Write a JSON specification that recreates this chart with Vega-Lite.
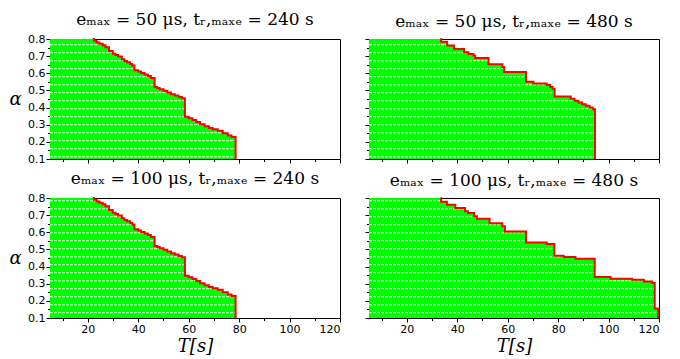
{
  "$schema": "https://vega.github.io/schema/vega-lite/v6.json",
  "background": "white",
  "padding": {"left": 8, "top": 10, "right": 14, "bottom": 2},
  "datasets": {
    "p1": [
      {"T": 5, "a": 0.8}, {"T": 22.0, "a": 0.8}, {"T": 22.4, "a": 0.79}, {"T": 23.5, "a": 0.78}, {"T": 24.6, "a": 0.772},
      {"T": 25.9, "a": 0.763}, {"T": 27.0, "a": 0.752}, {"T": 28.4, "a": 0.73}, {"T": 29.9, "a": 0.714}, {"T": 31.0, "a": 0.706},
      {"T": 32.0, "a": 0.698}, {"T": 33.5, "a": 0.682}, {"T": 34.5, "a": 0.672}, {"T": 35.5, "a": 0.664}, {"T": 36.8, "a": 0.654},
      {"T": 37.6, "a": 0.645}, {"T": 38.5, "a": 0.617}, {"T": 40.0, "a": 0.61}, {"T": 41.1, "a": 0.602}, {"T": 42.5, "a": 0.593},
      {"T": 43.8, "a": 0.584}, {"T": 45.0, "a": 0.573}, {"T": 46.5, "a": 0.52}, {"T": 47.5, "a": 0.514}, {"T": 48.5, "a": 0.507},
      {"T": 50.0, "a": 0.498}, {"T": 51.5, "a": 0.488}, {"T": 53.0, "a": 0.478}, {"T": 54.5, "a": 0.47}, {"T": 56.0, "a": 0.462},
      {"T": 57.3, "a": 0.455}, {"T": 58.5, "a": 0.347}, {"T": 60.0, "a": 0.338}, {"T": 61.5, "a": 0.328}, {"T": 63.0, "a": 0.316},
      {"T": 64.5, "a": 0.302}, {"T": 66.3, "a": 0.291}, {"T": 68.0, "a": 0.281}, {"T": 69.5, "a": 0.273}, {"T": 71.5, "a": 0.265},
      {"T": 73.5, "a": 0.25}, {"T": 75.5, "a": 0.237}, {"T": 77.0, "a": 0.228}, {"T": 78.6, "a": 0.1}
    ],
    "p2": [
      {"T": 5, "a": 0.8}, {"T": 33.3, "a": 0.8}, {"T": 33.6, "a": 0.784}, {"T": 36.0, "a": 0.762}, {"T": 38.8, "a": 0.742},
      {"T": 42.7, "a": 0.722}, {"T": 44.4, "a": 0.712}, {"T": 46.4, "a": 0.704}, {"T": 47.1, "a": 0.689}, {"T": 52.4, "a": 0.653},
      {"T": 57.9, "a": 0.636}, {"T": 58.6, "a": 0.608}, {"T": 67.3, "a": 0.55}, {"T": 70.2, "a": 0.541}, {"T": 75.5, "a": 0.531},
      {"T": 76.8, "a": 0.52}, {"T": 77.8, "a": 0.51}, {"T": 78.6, "a": 0.464}, {"T": 85.0, "a": 0.452}, {"T": 86.5, "a": 0.44},
      {"T": 88.0, "a": 0.43}, {"T": 89.5, "a": 0.42}, {"T": 91.0, "a": 0.41}, {"T": 92.5, "a": 0.4}, {"T": 93.7, "a": 0.39},
      {"T": 94.6, "a": 0.1}
    ],
    "p3": [
      {"T": 5, "a": 0.8}, {"T": 22.0, "a": 0.8}, {"T": 22.4, "a": 0.79}, {"T": 23.5, "a": 0.78}, {"T": 24.6, "a": 0.772},
      {"T": 25.9, "a": 0.763}, {"T": 27.0, "a": 0.752}, {"T": 28.4, "a": 0.73}, {"T": 29.9, "a": 0.714}, {"T": 31.0, "a": 0.706},
      {"T": 32.0, "a": 0.698}, {"T": 33.5, "a": 0.682}, {"T": 34.5, "a": 0.672}, {"T": 35.5, "a": 0.664}, {"T": 36.8, "a": 0.654},
      {"T": 37.6, "a": 0.645}, {"T": 38.5, "a": 0.617}, {"T": 40.0, "a": 0.61}, {"T": 41.1, "a": 0.602}, {"T": 42.5, "a": 0.593},
      {"T": 43.8, "a": 0.584}, {"T": 45.0, "a": 0.573}, {"T": 46.5, "a": 0.52}, {"T": 47.5, "a": 0.514}, {"T": 48.5, "a": 0.507},
      {"T": 50.0, "a": 0.498}, {"T": 51.5, "a": 0.488}, {"T": 53.0, "a": 0.478}, {"T": 54.5, "a": 0.47}, {"T": 56.0, "a": 0.462},
      {"T": 57.3, "a": 0.455}, {"T": 58.5, "a": 0.347}, {"T": 60.0, "a": 0.338}, {"T": 61.5, "a": 0.328}, {"T": 63.0, "a": 0.316},
      {"T": 64.5, "a": 0.302}, {"T": 66.3, "a": 0.291}, {"T": 68.0, "a": 0.281}, {"T": 69.5, "a": 0.273}, {"T": 71.5, "a": 0.265},
      {"T": 73.5, "a": 0.25}, {"T": 75.5, "a": 0.237}, {"T": 77.0, "a": 0.228}, {"T": 78.6, "a": 0.1}
    ],
    "p4": [
      {"T": 5, "a": 0.8}, {"T": 33.4, "a": 0.8}, {"T": 33.6, "a": 0.778}, {"T": 35.9, "a": 0.761}, {"T": 39.2, "a": 0.741},
      {"T": 43.1, "a": 0.722}, {"T": 44.2, "a": 0.712}, {"T": 46.7, "a": 0.693}, {"T": 47.8, "a": 0.679}, {"T": 52.8, "a": 0.652},
      {"T": 57.9, "a": 0.635}, {"T": 58.9, "a": 0.605}, {"T": 67.3, "a": 0.541}, {"T": 75.5, "a": 0.531}, {"T": 78.5, "a": 0.463},
      {"T": 82.2, "a": 0.456}, {"T": 86.9, "a": 0.446}, {"T": 94.5, "a": 0.339}, {"T": 100.8, "a": 0.329}, {"T": 109.3, "a": 0.323},
      {"T": 114.0, "a": 0.313}, {"T": 117.3, "a": 0.304}, {"T": 118.3, "a": 0.155}, {"T": 119.7, "a": 0.1}
    ],
    "hatchTop": [
      {"a": 0.767, "T": 5, "T2": 120}, {"a": 0.72, "T": 5, "T2": 120}, {"a": 0.673, "T": 5, "T2": 120}, {"a": 0.627, "T": 5, "T2": 120},
      {"a": 0.58, "T": 5, "T2": 120}, {"a": 0.533, "T": 5, "T2": 120}, {"a": 0.487, "T": 5, "T2": 120}, {"a": 0.44, "T": 5, "T2": 120},
      {"a": 0.393, "T": 5, "T2": 120}, {"a": 0.347, "T": 5, "T2": 120}, {"a": 0.3, "T": 5, "T2": 120}, {"a": 0.253, "T": 5, "T2": 120},
      {"a": 0.207, "T": 5, "T2": 120}, {"a": 0.16, "T": 5, "T2": 120}, {"a": 0.113, "T": 5, "T2": 120}
    ],
    "hatchBot": [
      {"a": 0.784, "T": 5, "T2": 120}, {"a": 0.737, "T": 5, "T2": 120}, {"a": 0.691, "T": 5, "T2": 120}, {"a": 0.644, "T": 5, "T2": 120},
      {"a": 0.597, "T": 5, "T2": 120}, {"a": 0.551, "T": 5, "T2": 120}, {"a": 0.504, "T": 5, "T2": 120}, {"a": 0.457, "T": 5, "T2": 120},
      {"a": 0.411, "T": 5, "T2": 120}, {"a": 0.364, "T": 5, "T2": 120}, {"a": 0.317, "T": 5, "T2": 120}, {"a": 0.271, "T": 5, "T2": 120},
      {"a": 0.224, "T": 5, "T2": 120}, {"a": 0.177, "T": 5, "T2": 120}, {"a": 0.131, "T": 5, "T2": 120}
    ]
  },
  "vconcat": [
    {
      "hconcat": [
        {
          "width": 290, "height": 120,
          "title": {"text": "eₘₐₓ = 50 μs,  tᵣ,ₘₐₓₑ = 240 s"},
          "encoding": {
            "x": {"field": "T", "type": "quantitative", "scale": {"domain": [5, 120], "nice": false, "zero": false},
                  "axis": {"title": null, "labels": false, "values": [10, 20, 30, 40, 50, 60, 70, 80, 90, 100, 110, 120],
                           "tickSize": {"condition": {"test": "datum.value % 20 === 0", "value": 4}, "value": 2.5}}},
            "y": {"field": "a", "type": "quantitative", "scale": {"domain": [0.1, 0.8], "nice": false, "zero": false},
                  "axis": {"title": "α", "format": ".1f", "values": [0.1, 0.15, 0.2, 0.25, 0.3, 0.35, 0.4, 0.45, 0.5, 0.55, 0.6, 0.65, 0.7, 0.75, 0.8],
                           "labelExpr": "abs(datum.value*10 - round(datum.value*10)) < 0.001 ? datum.label : ''",
                           "tickSize": {"condition": {"test": "abs(datum.value*10 - round(datum.value*10)) < 0.001", "value": 4}, "value": 2.5},
                           "titleAngle": 0, "titleX": -35, "titleY": 60, "titleAlign": "center", "titleBaseline": "middle"}}
          },
          "layer": [
            {"data": {"name": "p1"}, "mark": {"type": "area", "interpolate": "step-after", "color": "#00ff00"},
             "encoding": {"y2": {"datum": 0.1}}},
            {"data": {"name": "hatchTop"}, "mark": {"type": "rule", "color": "white", "strokeDash": [3, 1], "strokeWidth": 1, "opacity": 0.85},
             "encoding": {"x2": {"field": "T2"}}},
            {"data": {"name": "p1"}, "transform": [{"filter": "datum.T > 5"}],
             "mark": {"type": "line", "interpolate": "step-after", "color": "#ff0000", "strokeWidth": 2}}
          ]
        },
        {
          "width": 290, "height": 120,
          "title": {"text": "eₘₐₓ = 50 μs,  tᵣ,ₘₐₓₑ = 480 s"},
          "encoding": {
            "x": {"field": "T", "type": "quantitative", "scale": {"domain": [5, 120], "nice": false, "zero": false},
                  "axis": {"title": null, "labels": false, "values": [10, 20, 30, 40, 50, 60, 70, 80, 90, 100, 110, 120],
                           "tickSize": {"condition": {"test": "datum.value % 20 === 0", "value": 4}, "value": 2.5}}},
            "y": {"field": "a", "type": "quantitative", "scale": {"domain": [0.1, 0.8], "nice": false, "zero": false},
                  "axis": {"title": null, "labels": false, "values": [0.1, 0.15, 0.2, 0.25, 0.3, 0.35, 0.4, 0.45, 0.5, 0.55, 0.6, 0.65, 0.7, 0.75, 0.8],
                           "tickSize": {"condition": {"test": "abs(datum.value*10 - round(datum.value*10)) < 0.001", "value": 4}, "value": 2.5}}}
          },
          "layer": [
            {"data": {"name": "p2"}, "mark": {"type": "area", "interpolate": "step-after", "color": "#00ff00"},
             "encoding": {"y2": {"datum": 0.1}}},
            {"data": {"name": "hatchTop"}, "mark": {"type": "rule", "color": "white", "strokeDash": [3, 1], "strokeWidth": 1, "opacity": 0.85},
             "encoding": {"x2": {"field": "T2"}}},
            {"data": {"name": "p2"}, "transform": [{"filter": "datum.T > 5"}],
             "mark": {"type": "line", "interpolate": "step-after", "color": "#ff0000", "strokeWidth": 2}}
          ]
        }
      ]
    },
    {
      "hconcat": [
        {
          "width": 290, "height": 120,
          "title": {"text": "eₘₐₓ = 100 μs,  tᵣ,ₘₐₓₑ = 240 s"},
          "encoding": {
            "x": {"field": "T", "type": "quantitative", "scale": {"domain": [5, 120], "nice": false, "zero": false},
                  "axis": {"title": "T[s]", "values": [10, 20, 30, 40, 50, 60, 70, 80, 90, 100, 110, 120],
                           "labelExpr": "datum.value % 20 === 0 ? datum.label : ''",
                           "tickSize": {"condition": {"test": "datum.value % 20 === 0", "value": 4}, "value": 2.5}}},
            "y": {"field": "a", "type": "quantitative", "scale": {"domain": [0.1, 0.8], "nice": false, "zero": false},
                  "axis": {"title": "α", "format": ".1f", "values": [0.1, 0.15, 0.2, 0.25, 0.3, 0.35, 0.4, 0.45, 0.5, 0.55, 0.6, 0.65, 0.7, 0.75, 0.8],
                           "labelExpr": "abs(datum.value*10 - round(datum.value*10)) < 0.001 ? datum.label : ''",
                           "tickSize": {"condition": {"test": "abs(datum.value*10 - round(datum.value*10)) < 0.001", "value": 4}, "value": 2.5},
                           "titleAngle": 0, "titleX": -35, "titleY": 60, "titleAlign": "center", "titleBaseline": "middle"}}
          },
          "layer": [
            {"data": {"name": "p3"}, "mark": {"type": "area", "interpolate": "step-after", "color": "#00ff00"},
             "encoding": {"y2": {"datum": 0.1}}},
            {"data": {"name": "hatchBot"}, "mark": {"type": "rule", "color": "white", "strokeDash": [3, 1], "strokeWidth": 1, "opacity": 0.85},
             "encoding": {"x2": {"field": "T2"}}},
            {"data": {"name": "p3"}, "transform": [{"filter": "datum.T > 5"}],
             "mark": {"type": "line", "interpolate": "step-after", "color": "#ff0000", "strokeWidth": 2}}
          ]
        },
        {
          "width": 290, "height": 120,
          "title": {"text": "eₘₐₓ = 100 μs,  tᵣ,ₘₐₓₑ = 480 s"},
          "encoding": {
            "x": {"field": "T", "type": "quantitative", "scale": {"domain": [5, 120], "nice": false, "zero": false},
                  "axis": {"title": "T[s]", "values": [10, 20, 30, 40, 50, 60, 70, 80, 90, 100, 110, 120],
                           "labelExpr": "datum.value % 20 === 0 ? datum.label : ''",
                           "tickSize": {"condition": {"test": "datum.value % 20 === 0", "value": 4}, "value": 2.5}}},
            "y": {"field": "a", "type": "quantitative", "scale": {"domain": [0.1, 0.8], "nice": false, "zero": false},
                  "axis": {"title": null, "labels": false, "values": [0.1, 0.15, 0.2, 0.25, 0.3, 0.35, 0.4, 0.45, 0.5, 0.55, 0.6, 0.65, 0.7, 0.75, 0.8],
                           "tickSize": {"condition": {"test": "abs(datum.value*10 - round(datum.value*10)) < 0.001", "value": 4}, "value": 2.5}}}
          },
          "layer": [
            {"data": {"name": "p4"}, "mark": {"type": "area", "interpolate": "step-after", "color": "#00ff00"},
             "encoding": {"y2": {"datum": 0.1}}},
            {"data": {"name": "hatchBot"}, "mark": {"type": "rule", "color": "white", "strokeDash": [3, 1], "strokeWidth": 1, "opacity": 0.85},
             "encoding": {"x2": {"field": "T2"}}},
            {"data": {"name": "p4"}, "transform": [{"filter": "datum.T > 5"}],
             "mark": {"type": "line", "interpolate": "step-after", "color": "#ff0000", "strokeWidth": 2}}
          ]
        }
      ],
      "spacing": 23
    }
  ],
  "spacing": 4,
  "config": {
    "view": {"stroke": "black", "strokeWidth": 1},
    "concat": {"spacing": 23},
    "axis": {"grid": false, "domain": false, "tickColor": "black", "labelColor": "black", "labelFont": "DejaVu Sans", "labelFontSize": 11,
             "labelPadding": 1, "titlePadding": 3, "titleFont": "DejaVu Serif", "titleFontStyle": "italic", "titleFontWeight": "normal", "titleFontSize": 18, "titleColor": "black"},
    "title": {"font": "DejaVu Serif", "fontSize": 17, "fontWeight": "normal", "color": "black", "offset": 4, "anchor": "middle"}
  }
}
